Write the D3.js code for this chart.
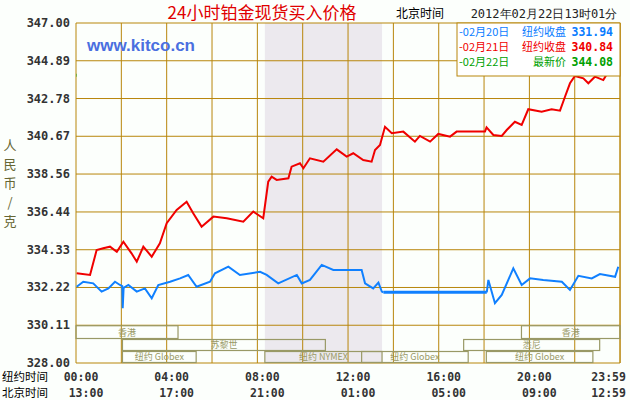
<!DOCTYPE html>
<html><head><meta charset="utf-8">
<script src="https://cdn.jsdelivr.net/npm/d3@7"></script>
<style>body{margin:0;background:#fff}svg{display:block}</style></head>
<body><svg id="c" width="630" height="400"></svg>
<script>
const yTicks=[347.00,344.89,342.78,340.67,338.56,336.44,334.33,332.22,330.11,328.00];
const nyLabels=["00:00","04:00","08:00","12:00","16:00","20:00","23:59"];
const bjLabels=["13:00","17:00","21:00","01:00","05:00","09:00","12:59"];
const labelHours=[0,4,8,12,16,20,23.98];
const legendRows=[["-02月20日","纽约收盘","331.94","#0a7cff"],["-02月21日","纽约收盘","340.84","#f00000"],["-02月22日","最新价","344.08","#00a000"]];
const series20=[[0.03,332.26],[0.32,332.54],[0.76,332.45],[1.13,331.99],[1.43,332.17],[1.72,332.54],[1.94,332.36],[2.04,332.3],[2.06,331.06],[2.1,332.2],[2.31,332.36],[2.68,331.99],[3.04,332.17],[3.34,331.62],[3.63,332.36],[4.15,332.54],[4.59,332.73],[4.95,332.92],[5.32,332.26],[5.91,332.54],[6.13,333.01],[6.72,333.38],[7.23,332.92],[8.12,333.1],[8.41,332.92],[8.92,332.45],[9.74,332.92],[9.96,332.45],[10.32,332.64],[10.84,333.48],[11.35,333.2],[12.6,333.2],[12.75,332.45],[13.11,332.17],[13.34,332.49],[13.49,331.99],[13.56,331.95],[18.12,331.95],[18.19,332.64],[18.48,331.34],[18.78,331.8],[19.07,332.64],[19.29,333.29],[19.66,332.36],[20.03,332.73],[20.61,332.64],[21.43,332.54],[21.79,332.08],[22.16,332.87],[22.75,332.73],[23.11,332.97],[23.78,332.82],[23.92,333.38]];
const series21=[[0.03,333.01],[0.62,332.92],[0.91,334.31],[1.2,334.41],[1.5,334.5],[1.8,334.22],[2.09,334.78],[2.45,334.13],[2.68,333.66],[2.97,334.5],[3.34,333.94],[3.7,334.69],[4.0,335.81],[4.44,336.55],[4.88,337.01],[5.17,336.37],[5.54,335.62],[6.06,336.18],[6.65,336.09],[7.38,335.9],[7.82,336.46],[8.26,336.09],[8.48,338.13],[8.63,338.41],[8.85,338.23],[9.37,338.32],[9.51,338.97],[9.88,339.16],[10.03,338.88],[10.32,339.44],[10.91,339.25],[11.5,339.94],[11.94,339.53],[12.23,339.72],[12.67,339.34],[13.04,339.25],[13.19,339.9],[13.41,340.18],[13.63,341.2],[13.93,340.84],[14.44,340.93],[14.95,340.37],[15.17,340.69],[15.62,340.37],[15.98,340.8],[16.5,340.65],[16.79,340.93],[17.38,340.93],[18.04,340.93],[18.11,341.17],[18.41,340.74],[18.78,340.69],[19.0,341.02],[19.36,341.48],[19.66,341.3],[19.95,342.18],[20.54,342.04],[20.98,342.18],[21.35,342.1],[21.57,342.88],[21.79,343.63],[22.01,344.04],[22.38,343.91],[22.6,343.63],[22.89,344.0],[23.26,343.81],[23.48,344.28],[23.92,344.28]];
const series22=[[0,344.08],[0.02,344.08]];
const sessions=[["香港",0,-0.5,4.5],["香港",0,19.65,24.5],["苏黎世",1,2.05,11.0],["悉尼",1,17.1,23.1],["纽约 Globex",2,2.05,5.3],["纽约 NYMEX",2,8.33,13.5],["纽约 Globex",2,12.6,17.3],["纽约 Globex",2,18.1,22.8]];

const svg=d3.select("#c");
const L=76,R=620,T=23,B=363;
svg.append("rect").attr("width",630).attr("height",400).attr("fill","#fcfffc");
const x=d3.scaleLinear().domain([0,24]).range([L,L+24*22.67]);
const y=d3.scaleLinear().domain([328,347]).range([B,T]);
const gold="#b8860b";
svg.append("rect").attr("x",x(8.33)).attr("y",T).attr("width",x(13.5)-x(8.33)).attr("height",B-T).attr("fill","#ece9ee");
const g=svg.append("g");
d3.range(0,25,2).forEach(h=>{if(x(h)<=R+1)g.append("line").attr("x1",x(h)).attr("x2",x(h)).attr("y1",T).attr("y2",B).attr("stroke",gold)});
g.append("line").attr("x1",R).attr("x2",R).attr("y1",T).attr("y2",B).attr("stroke",gold);
yTicks.forEach(v=>{g.append("line").attr("x1",L).attr("x2",R).attr("y1",y(v)).attr("y2",y(v)).attr("stroke",gold);
 svg.append("text").attr("x",70).attr("y",y(v)+4).attr("text-anchor","end").attr("font-family","DejaVu Sans Mono").attr("font-weight","bold").attr("font-size",12).attr("fill","#333").text(v.toFixed(2));});
const rowY=[y(330.11),339,351,363];
const sc="#999966";
sessions.forEach(s=>{const x0=Math.max(L,x(s[2])),x1=Math.min(R,x(s[3]));const y0=rowY[s[1]],y1=rowY[s[1]+1];
 svg.append("rect").attr("x",x0).attr("y",y0+0.5).attr("width",x1-x0).attr("height",y1-y0-1).attr("fill","none").attr("stroke",sc).attr("stroke-width",1.2);
 svg.append("text").attr("x",(x0+x1)/2).attr("y",y1-3.5).attr("text-anchor","middle").attr("font-family","Noto Sans CJK SC").attr("font-size",9).attr("fill","#999966").text(s[0]);});
const line=d3.line().x(d=>x(d[0])).y(d=>y(d[1]));
const seg20a=series20.filter(d=>d[0]<=13.56),seg20b=series20.filter(d=>d[0]>=13.56&&d[0]<=18.12),seg20c=series20.filter(d=>d[0]>=18.12);
[seg20a,seg20c].forEach(s=>svg.append("path").datum(s).attr("d",line).attr("fill","none").attr("stroke","#1080ff").attr("stroke-width",2));
svg.append("path").datum(seg20b).attr("d",line).attr("fill","none").attr("stroke","#1080ff").attr("stroke-width",3);
svg.append("path").datum(series21).attr("d",line).attr("fill","none").attr("stroke","#f00000").attr("stroke-width",2);
svg.append("path").datum(series22).attr("d",line).attr("fill","none").attr("stroke","#00a000").attr("stroke-width",3);
svg.append("rect").attr("x",457).attr("y",T).attr("width",R-457).attr("height",53).attr("fill","#fff").attr("stroke",gold);
legendRows.forEach((r,i)=>{const ty=36+i*15;
 svg.append("text").attr("x",459).attr("y",ty).attr("font-family","Noto Sans CJK SC").attr("font-size",11).attr("fill",r[3]).text(r[0]);
 svg.append("text").attr("x",566).attr("y",ty).attr("text-anchor","end").attr("font-family","Noto Sans CJK SC").attr("font-size",11).attr("fill",r[3]).text(r[1]);
 svg.append("text").attr("x",613).attr("y",ty).attr("text-anchor","end").attr("font-family","DejaVu Sans Mono").attr("font-weight","bold").attr("font-size",11.5).attr("fill",r[3]).text(r[2]);});
svg.append("text").attr("x",262).attr("y",19).attr("text-anchor","middle").attr("font-family","Noto Sans CJK SC").attr("font-size",17).attr("fill","#e00000").text("24小时铂金现货买入价格");
svg.append("text").attr("x",420).attr("y",18).attr("text-anchor","middle").attr("font-family","Noto Sans CJK SC").attr("font-size",12).attr("fill","#000").text("北京时间");
svg.append("text").attr("x",544).attr("y",18).attr("text-anchor","middle").attr("font-family","DejaVu Sans Mono").attr("font-size",12).attr("fill","#222").text("2012年02月22日13时01分");
svg.append("text").attr("x",87).attr("y",51).attr("font-family","Liberation Sans").attr("font-weight","bold").attr("font-size",17).attr("fill","#4a6fe0").text("www.kitco.cn");
["人","民","币","/","克"].forEach((c,i)=>svg.append("text").attr("x",10).attr("y",150+i*19).attr("text-anchor","middle").attr("font-family","Noto Sans CJK SC").attr("font-size",13).attr("fill","#666633").text(c));
svg.append("text").attr("x",2).attr("y",381).attr("font-family","Noto Sans CJK SC").attr("font-size",11.5).text("纽约时间");
svg.append("text").attr("x",2).attr("y",397).attr("font-family","Noto Sans CJK SC").attr("font-size",11.5).text("北京时间");
labelHours.forEach((h,i)=>{
 svg.append("text").attr("x",i==6?x(h)-11:x(h)+5).attr("y",381).attr("text-anchor","middle").attr("font-family","DejaVu Sans Mono").attr("font-weight","bold").attr("font-size",11.5).attr("fill","#333").text(nyLabels[i]);
 svg.append("text").attr("x",i==6?x(h)-11:x(h)+10).attr("y",397).attr("text-anchor","middle").attr("font-family","DejaVu Sans Mono").attr("font-weight","bold").attr("font-size",11.5).attr("fill","#333").text(bjLabels[i]);});
</script></body></html>
